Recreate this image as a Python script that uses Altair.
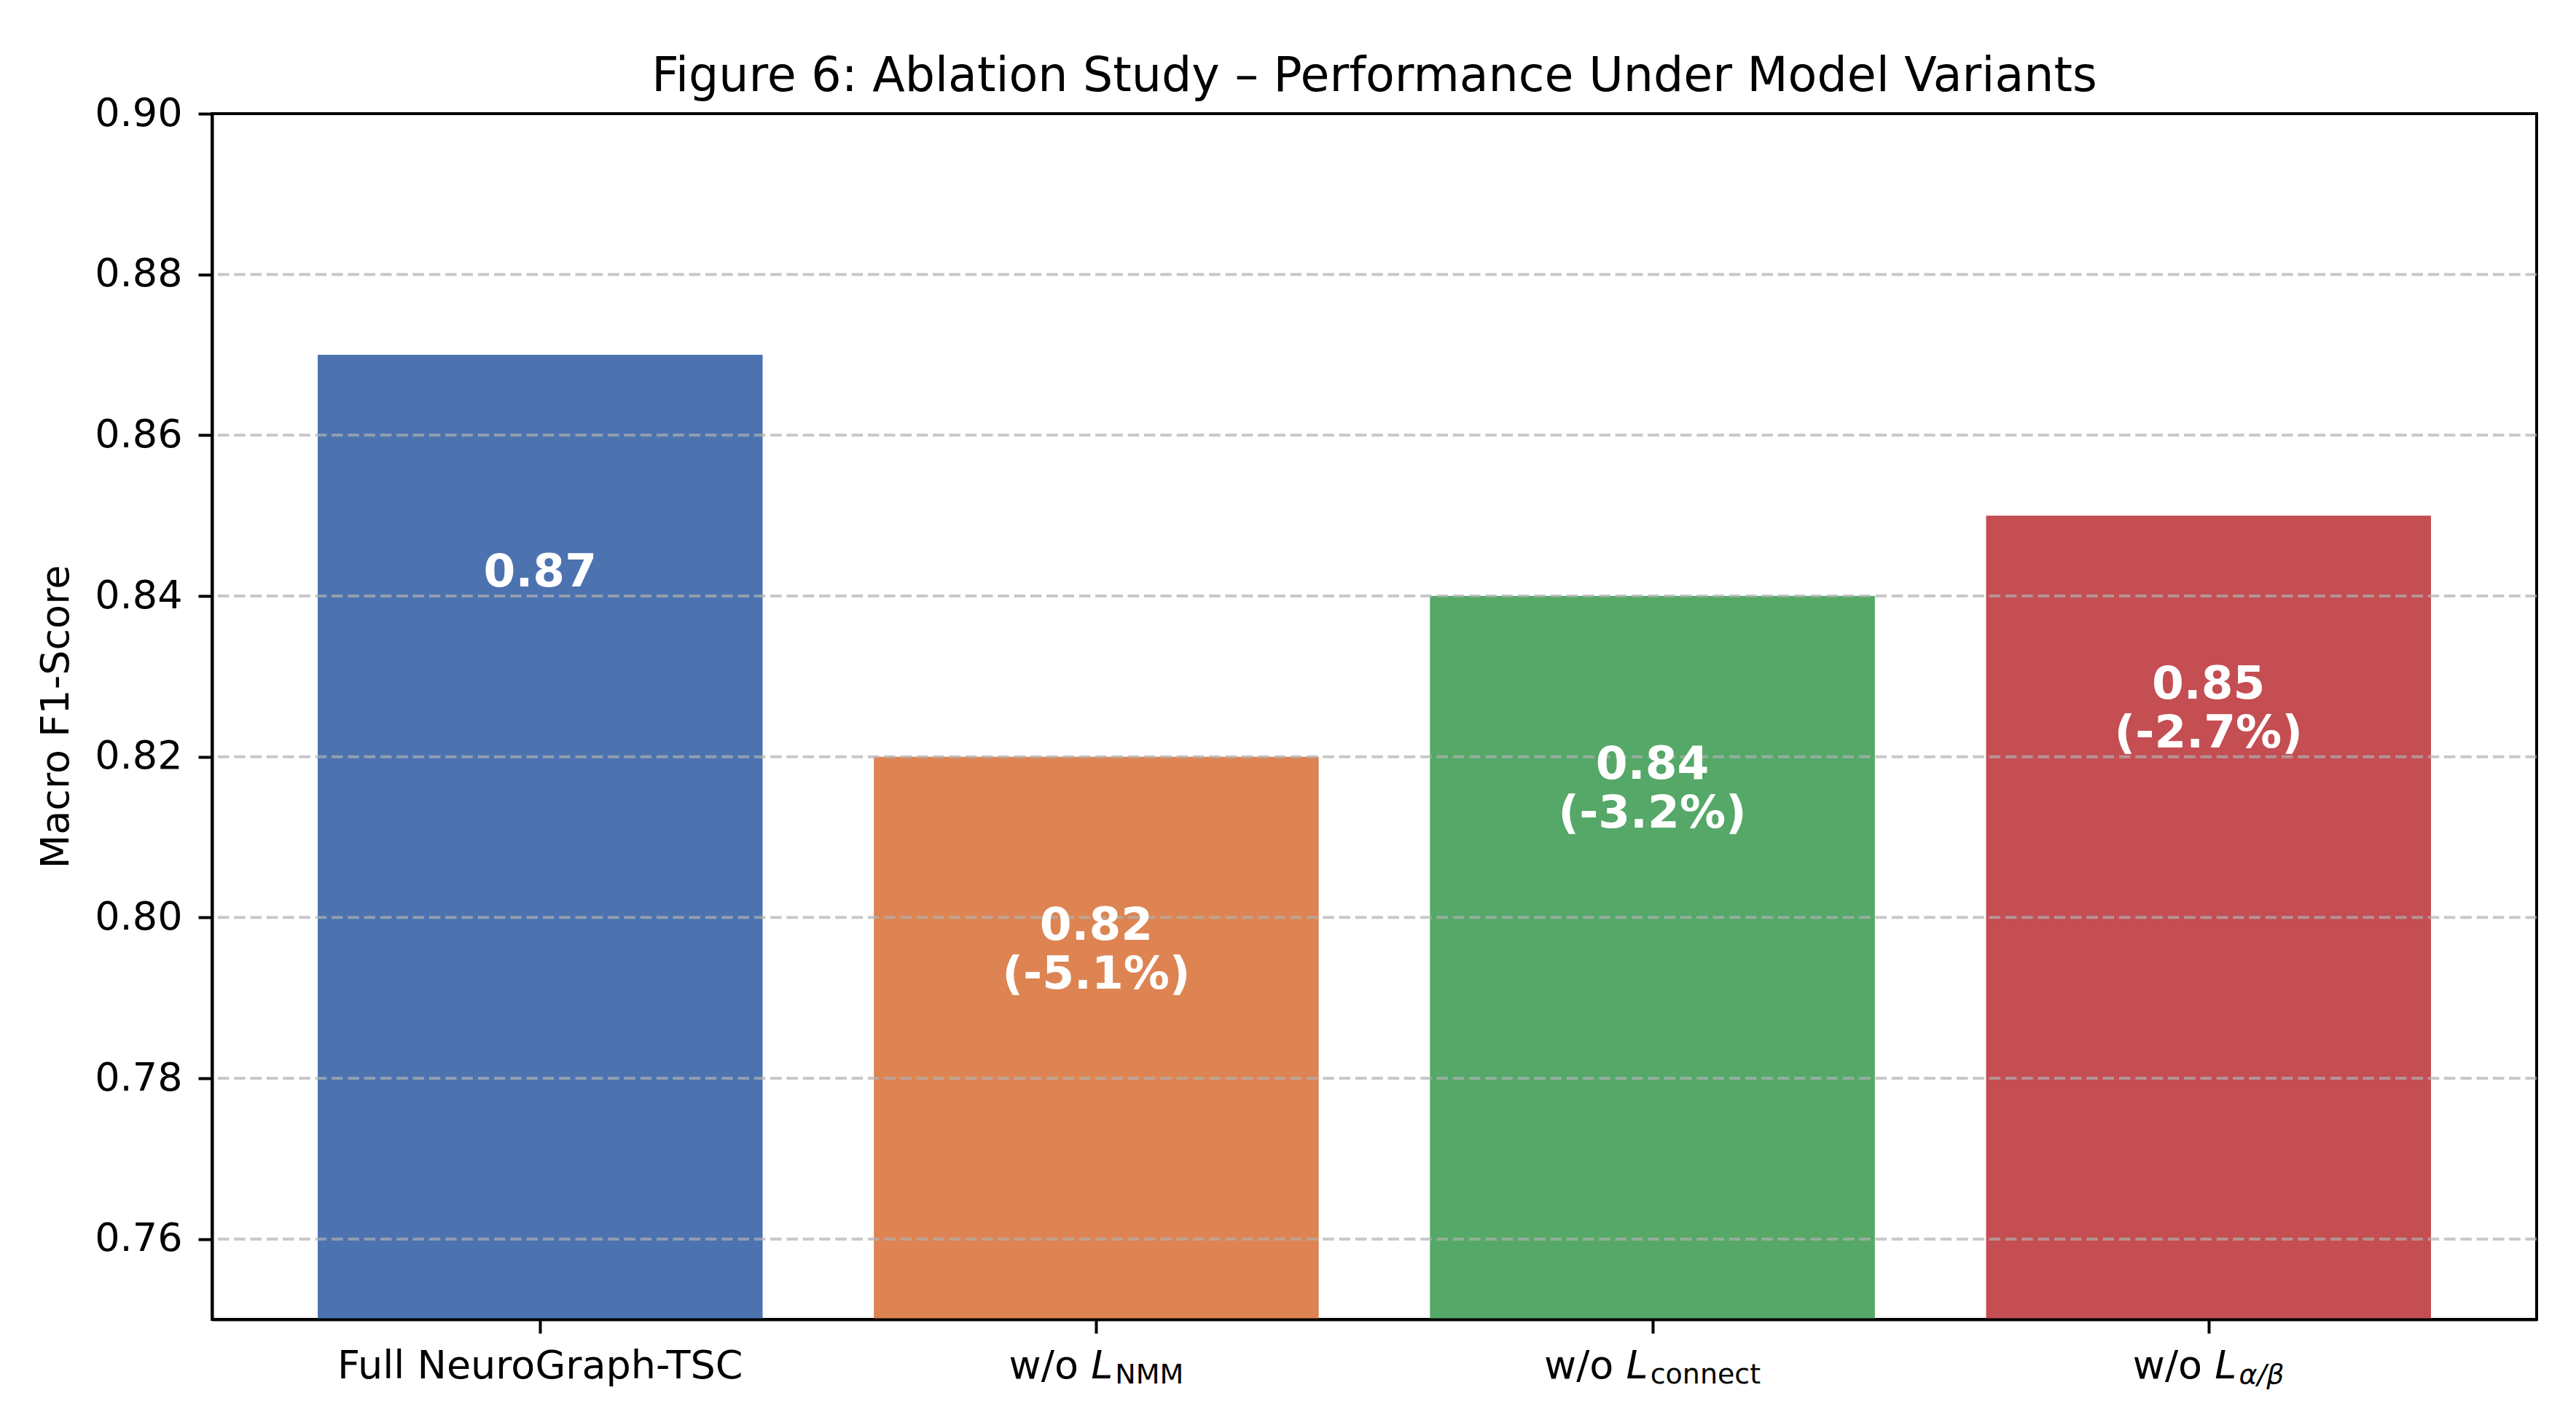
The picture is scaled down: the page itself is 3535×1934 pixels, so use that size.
import altair as alt
import pandas as pd

# ---------------- data ----------------
categories = ["Full NeuroGraph-TSC", "w/o L_NMM", "w/o L_connect", "w/o L_α/β"]
scores = [0.87, 0.82, 0.84, 0.85]
drops = ["", "-5.1%", "-3.2%", "-2.7%"]
label_prefix = ["Full NeuroGraph-TSC", "w/o ", "w/o ", "w/o "]
label_symbol = ["", "L", "L", "L"]
label_sub = ["", "NMM", "connect", "α/β"]
label_sub_italic = [False, False, False, True]
colors = ["#4c72b0", "#dd8452", "#55a868", "#c44e52"]
y_ticks = [0.76, 0.78, 0.80, 0.82, 0.84, 0.86, 0.88, 0.90]
chart_title = "Figure 6: Ablation Study – Performance Under Model Variants"
y_title = "Macro F1-Score"

# ---------------- layout / style ----------------
W, H = 3190, 1655
X_DOMAIN = [-0.59, 3.59]
Y_DOMAIN = [0.75, 0.90]
BAR_WIDTH = 0.8
FONT = "DejaVu Sans"
TICK_FS = 54
SUB_FS = 38
TITLE_FS = 65
BAR_LABEL_FS = 63
LINE_H = 67
PPU = W / (X_DOMAIN[1] - X_DOMAIN[0])  # pixels per x unit
SUB_GAP = 3

# DejaVu Sans advance widths (em)
EM = {"w": 0.818, "/": 0.337, "o": 0.612, " ": 0.318, "L": 0.557,
      "N": 0.748, "M": 0.863, "c": 0.550, "n": 0.634, "e": 0.615,
      "t": 0.392, "α": 0.652, "β": 0.650}


def text_width(s, size):
    return sum(EM.get(ch, 0.6) for ch in s) * size


pos = list(range(len(categories)))

bars = pd.DataFrame({
    "category": categories,
    "pos": pos,
    "score": scores,
    "base": [0.0] * len(scores),
    "x0": [p - BAR_WIDTH / 2 for p in pos],
    "x1": [p + BAR_WIDTH / 2 for p in pos],
    "value_txt": [f"{s:.2f}" for s in scores],
    "drop_txt": [f"({d})" if d else "" for d in drops],
    "has_drop": [bool(d) for d in drops],
    "label_y": [s - 0.03 for s in scores],
})

rows = []
for i, p in enumerate(pos):
    if label_symbol[i] == "":
        rows.append({"kind": "center", "text": label_prefix[i], "lx": p})
        continue
    w_pre = text_width(label_prefix[i], TICK_FS)
    w_sym = text_width(label_symbol[i], TICK_FS)
    w_sub = text_width(label_sub[i], SUB_FS)
    total = w_pre + w_sym + SUB_GAP + w_sub
    left = -total / 2
    rows.append({"kind": "pre", "text": label_prefix[i], "lx": p + left / PPU})
    rows.append({"kind": "sym", "text": label_symbol[i], "lx": p + (left + w_pre) / PPU})
    rows.append({"kind": "subital" if label_sub_italic[i] else "sub", "text": label_sub[i],
                 "lx": p + (left + w_pre + w_sym + SUB_GAP) / PPU})
parts = pd.DataFrame(rows)
grid = pd.DataFrame({"tick": y_ticks})
title_df = pd.DataFrame({"text": [chart_title],
                         "tx": [(X_DOMAIN[0] + X_DOMAIN[1]) / 2],
                         "ty": [Y_DOMAIN[1]]})

xscale = alt.Scale(domain=X_DOMAIN, nice=False, zero=False)
yscale = alt.Scale(domain=Y_DOMAIN, nice=False, zero=False)

bar_layer = alt.Chart(bars).mark_bar(clip=True).encode(
    x=alt.X("x0:Q", scale=xscale, title=None,
            axis=alt.Axis(values=pos, labels=False, tickSize=19, tickWidth=4,
                          tickColor="black", domainColor="black", domainWidth=4,
                          grid=False, zindex=1)),
    x2="x1:Q",
    y=alt.Y("score:Q", scale=yscale, title=y_title,
            axis=alt.Axis(values=y_ticks, format=".2f", labelFontSize=TICK_FS,
                          labelFont=FONT, labelColor="black", labelPadding=22,
                          tickSize=19, tickWidth=4, tickColor="black",
                          domainColor="black", domainWidth=4, grid=False, zindex=1,
                          titleFont=FONT, titleFontSize=TICK_FS, titleFontWeight="normal",
                          titleColor="black", titleX=-198, titleY=H / 2,
                          titleBaseline="alphabetic")),
    y2="base:Q",
    color=alt.Color("category:N", scale=alt.Scale(domain=categories, range=colors), legend=None),
)

# grid lines (the one at the top edge is hidden by the frame, as in the original)
grid_layer = alt.Chart(grid).transform_filter(
    alt.datum.tick < Y_DOMAIN[1]
).mark_rule(
    color="#b0b0b0", opacity=0.7, strokeWidth=4, strokeDash=[15.5, 6.8]
).encode(y=alt.Y("tick:Q", title=y_title))


def bar_text(field, only_drop, dy):
    return alt.Chart(bars).transform_filter(
        alt.datum.has_drop == only_drop
    ).mark_text(
        color="white", font=FONT, fontSize=BAR_LABEL_FS, fontWeight="bold",
        align="center", baseline="bottom", dy=dy
    ).encode(
        x=alt.X("pos:Q", title=None),
        y=alt.Y("label_y:Q", title=y_title),
        text=f"{field}:N",
    )


bar_texts = [
    bar_text("value_txt", False, 0),        # single-line label
    bar_text("value_txt", True, -LINE_H),   # first line of two-line labels
    bar_text("drop_txt", True, 0),          # second line of two-line labels
]

title_layer = alt.Chart(title_df).mark_text(
    font=FONT, fontSize=TITLE_FS, color="black", align="center",
    baseline="alphabetic", dy=-31
).encode(
    x=alt.X("tx:Q", title=None),
    y=alt.Y("ty:Q", title=y_title),
    text="text:N",
)


def part_layer(kind, align, size, style, dy):
    kw = dict(font=FONT, fontSize=size, color="black", align=align,
              baseline="alphabetic", dy=dy)
    if style:
        kw["fontStyle"] = style
    return alt.Chart(parts).transform_filter(
        alt.datum.kind == kind
    ).mark_text(**kw).encode(
        x=alt.X("lx:Q", title=None),
        y=alt.datum(Y_DOMAIN[0]),
        text="text:N",
    )


labels = [
    part_layer("center", "center", TICK_FS, None, 81),
    part_layer("pre", "left", TICK_FS, None, 81),
    part_layer("sym", "left", TICK_FS, "italic", 81),
    part_layer("sub", "left", SUB_FS, None, 88),
    part_layer("subital", "left", SUB_FS, "italic", 88),
]

chart = alt.layer(bar_layer, grid_layer, *bar_texts, title_layer, *labels).properties(
    width=W,
    height=H,
    background="white",
    autosize=alt.AutoSizeParams(type="none"),
    padding={"left": 283, "top": 148, "right": 40, "bottom": 100},
).configure_view(stroke="black", strokeWidth=4)

chart.save("out.html", embed_options={"renderer": "svg", "actions": False})
